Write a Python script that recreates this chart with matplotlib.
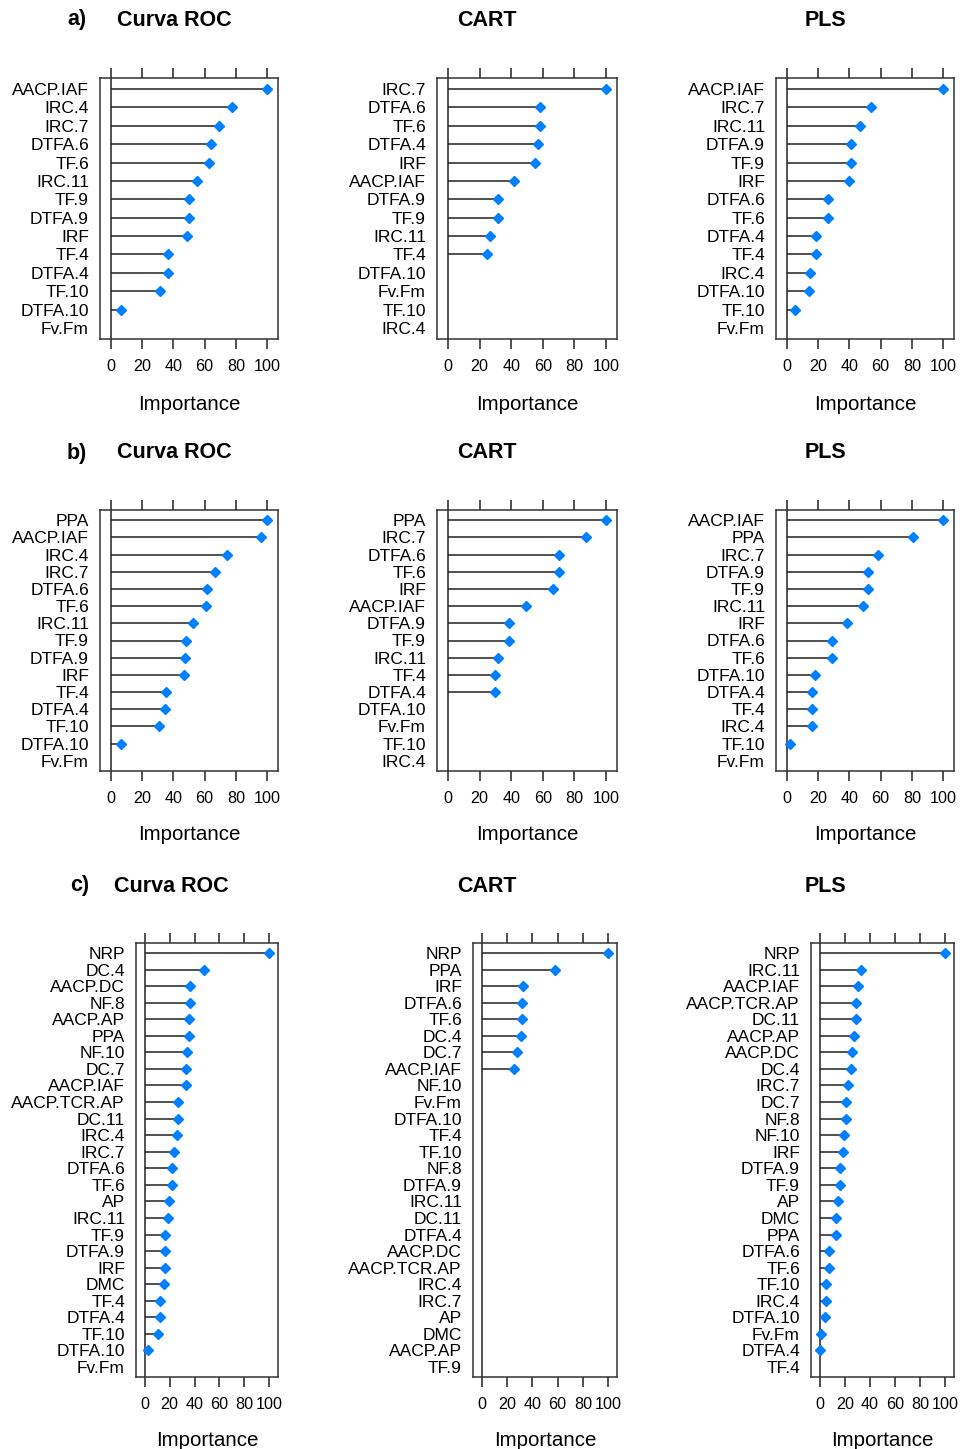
import numpy as np
import matplotlib.pyplot as plt

plt.rcParams['font.family'] = ['Liberation Sans', 'DejaVu Sans']

nan = np.nan

# ---- a) importance tables ----
roc_a_vars = ['AACP.IAF', 'IRC.4', 'IRC.7', 'DTFA.6', 'TF.6', 'IRC.11', 'TF.9',
              'DTFA.9', 'IRF', 'TF.4', 'DTFA.4', 'TF.10', 'DTFA.10', 'Fv.Fm']
roc_a_imp = [100, 77.5, 69, 64, 63, 55, 50, 50, 49, 36.6, 36.6, 31.5, 6.2, nan]

cart_a_vars = ['IRC.7', 'DTFA.6', 'TF.6', 'DTFA.4', 'IRF', 'AACP.IAF', 'DTFA.9',
               'TF.9', 'IRC.11', 'TF.4', 'DTFA.10', 'Fv.Fm', 'TF.10', 'IRC.4']
cart_a_imp = [100, 58.5, 58.5, 56.8, 55.3, 41.7, 31.6, 31.6, 26.7, 24.9, nan, nan, nan, nan]

pls_a_vars = ['AACP.IAF', 'IRC.7', 'IRC.11', 'DTFA.9', 'TF.9', 'IRF', 'DTFA.6',
              'TF.6', 'DTFA.4', 'TF.4', 'IRC.4', 'DTFA.10', 'TF.10', 'Fv.Fm']
pls_a_imp = [100, 53.8, 47, 41.2, 41.2, 39.5, 26.3, 26.3, 18.6, 18.6, 14.5, 13.9, 4.9, nan]

# ---- b) ----
roc_b_vars = ['PPA', 'AACP.IAF', 'IRC.4', 'IRC.7', 'DTFA.6', 'TF.6', 'IRC.11', 'TF.9',
              'DTFA.9', 'IRF', 'TF.4', 'DTFA.4', 'TF.10', 'DTFA.10', 'Fv.Fm']
roc_b_imp = [100, 96.1, 74.3, 66.8, 61.5, 60.8, 52.5, 48.2, 47.3, 46.5, 35.5, 34.5,
             30.6, 6.2, nan]

cart_b_vars = ['PPA', 'IRC.7', 'DTFA.6', 'TF.6', 'IRF', 'AACP.IAF', 'DTFA.9', 'TF.9',
               'IRC.11', 'TF.4', 'DTFA.4', 'DTFA.10', 'Fv.Fm', 'TF.10', 'IRC.4']
cart_b_imp = [100, 87.3, 70.3, 70.3, 66.2, 49.5, 38.3, 38.3, 31.6, 29.9, 29.9,
              nan, nan, nan, nan]

pls_b_vars = ['AACP.IAF', 'PPA', 'IRC.7', 'DTFA.9', 'TF.9', 'IRC.11', 'IRF', 'DTFA.6',
              'TF.6', 'DTFA.10', 'DTFA.4', 'TF.4', 'IRC.4', 'TF.10', 'Fv.Fm']
pls_b_imp = [100, 80.8, 58.1, 52.1, 52.1, 48.7, 38.7, 28.6, 28.6, 17.7, 16.2, 16.2,
             16.2, 2.1, nan]

# ---- c) ----
roc_c_vars = ['NRP', 'DC.4', 'AACP.DC', 'NF.8', 'AACP.AP', 'PPA', 'NF.10', 'DC.7',
              'AACP.IAF', 'AACP.TCR.AP', 'DC.11', 'IRC.4', 'IRC.7', 'DTFA.6', 'TF.6',
              'AP', 'IRC.11', 'TF.9', 'DTFA.9', 'IRF', 'DMC', 'TF.4', 'DTFA.4',
              'TF.10', 'DTFA.10', 'Fv.Fm']
roc_c_imp = [100, 47.5, 36.3, 36.3, 35.2, 35.2, 34.1, 33.1, 33.1, 26.9, 26.9, 25.9,
             23.5, 21.6, 21.6, 19.5, 18.4, 16.3, 16.3, 16.3, 15.2, 12.3, 12.3, 10.9,
             2.4, nan]

cart_c_vars = ['NRP', 'PPA', 'IRF', 'DTFA.6', 'TF.6', 'DC.4', 'DC.7', 'AACP.IAF',
               'NF.10', 'Fv.Fm', 'DTFA.10', 'TF.4', 'TF.10', 'NF.8', 'DTFA.9',
               'IRC.11', 'DC.11', 'DTFA.4', 'AACP.DC', 'AACP.TCR.AP', 'IRC.4',
               'IRC.7', 'AP', 'DMC', 'AACP.AP', 'TF.9']
cart_c_imp = [100, 58.3, 32.9, 31.8, 31.8, 30.7, 27.8, 25.4] + [nan] * 18

pls_c_vars = ['NRP', 'IRC.11', 'AACP.IAF', 'AACP.TCR.AP', 'DC.11', 'AACP.AP',
              'AACP.DC', 'DC.4', 'IRC.7', 'DC.7', 'NF.8', 'NF.10', 'IRF', 'DTFA.9',
              'TF.9', 'AP', 'DMC', 'PPA', 'DTFA.6', 'TF.6', 'TF.10', 'IRC.4',
              'DTFA.10', 'Fv.Fm', 'DTFA.4', 'TF.4']
pls_c_imp = [100, 33.1, 30.1, 29.1, 29.1, 26.9, 25.9, 24.8, 22.7, 20.8, 20.8, 19.7,
             18.4, 16.3, 16.3, 14.4, 13.3, 13.3, 7.7, 7.7, 5.1, 5.1, 4.0, 1.3, 0, nan]

W, H = 960, 1449
fig = plt.figure(figsize=(W / 100, H / 100), dpi=100)
fig.patch.set_facecolor('white')

LINE = '#222222'
DOT = '#0080ff'


def px_axes(x0, x1, y0, y1):
    return fig.add_axes([x0 / W, 1 - y1 / H, (x1 - x0) / W, (y1 - y0) / H])


def dotplot(ax, names, vals, label_gap):
    n = len(names)
    y = np.arange(n)[::-1]
    vals = np.asarray(vals, float)
    ok = ~np.isnan(vals)
    ax.axvline(0, color=LINE, lw=1.1, zorder=1)
    ax.hlines(y[ok], 0, vals[ok], color=LINE, lw=1.1, zorder=2)
    ax.plot(vals[ok], y[ok], 'D', color=DOT, ms=5.4, mec=DOT, zorder=3)
    ax.set_xlim(-7, 107)
    ax.set_ylim(-0.6, n - 0.4)
    ax.set_yticks(y)
    ax.set_yticklabels(names)
    ax.set_xticks(np.arange(0, 101, 20))
    ax.tick_params(axis='x', top=True, bottom=True, direction='out', length=7,
                   width=1.1, color=LINE, labelsize=11.6, pad=7.5)
    ax.tick_params(axis='y', length=0, pad=8, labelsize=12.5)
    for s in ax.spines.values():
        s.set_color('#333333')
        s.set_linewidth(1.1)
    ax.set_xlabel('Importance', fontsize=14.8)
    hpx = ax.get_position().height * H
    ax.xaxis.set_label_coords(0.5, -label_gap / hpx)
    ax.xaxis.label.set_va('center')


def ftext(x, y, s, **kw):
    fig.text(x / W, 1 - y / H, s, ha='center', va='center', fontweight='bold',
             fontsize=15.5, **kw)


rows = [
    # (frame top, frame bottom, title y, label gap, tag, panels)
    (78, 339, 20, 65, 'a)', [(100, 278, roc_a_vars, roc_a_imp),
                             (437, 617, cart_a_vars, cart_a_imp),
                             (776, 954, pls_a_vars, pls_a_imp)], (77, 174)),
    (510, 771, 453, 64, 'b)', [(100, 278, roc_b_vars, roc_b_imp),
                               (437, 617, cart_b_vars, cart_b_imp),
                               (776, 954, pls_b_vars, pls_b_imp)], (77, 174)),
    (943, 1377, 886, 63, 'c)', [(136, 278, roc_c_vars, roc_c_imp),
                                (473, 617, cart_c_vars, cart_c_imp),
                                (811, 954, pls_c_vars, pls_c_imp)], (80, 171)),
]

for top, bot, ty, gap, tag, panels, (tag_x, roc_x) in rows:
    for x0, x1, names, vals in panels:
        ax = px_axes(x0, x1, top, bot)
        dotplot(ax, names, vals, gap)
    ftext(tag_x, ty, tag)
    ftext(roc_x, ty, 'Curva ROC')
    ftext(487, ty, 'CART')
    ftext(825, ty, 'PLS')

fig.savefig('out.png', dpi=100, facecolor='white')
